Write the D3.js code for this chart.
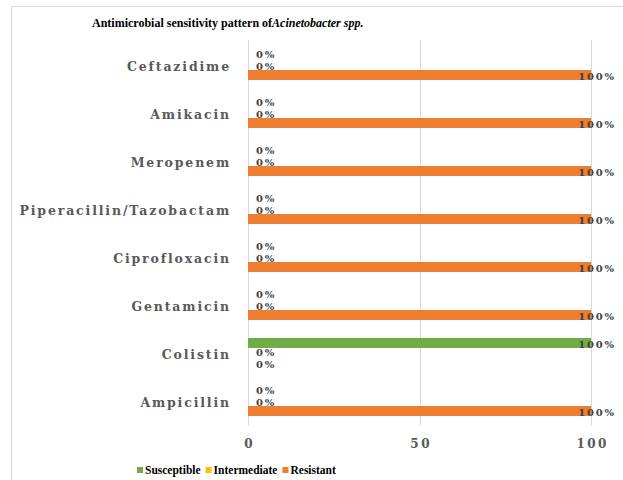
<!DOCTYPE html>
<html><head><meta charset="utf-8">
<script src="https://cdn.jsdelivr.net/npm/d3@7"></script>
<style>
body{margin:0;background:#fff;}
svg{display:block;}
</style></head>
<body>
<script>
const categories = ["Ceftazidime","Amikacin","Meropenem","Piperacillin/Tazobactam","Ciprofloxacin","Gentamicin","Colistin","Ampicillin"];
const seriesNames = ["Susceptible","Intermediate","Resistant"];
const susceptible = [0,0,0,0,0,0,100,0];
const intermediate = [0,0,0,0,0,0,0,0];
const resistant = [100,100,100,100,100,100,0,100];
const xTicks = [0,50,100];
const colors = ["#70AD47","#FFC000","#ED7D31"];

const FONT = "'Liberation Serif', 'Times New Roman', serif";
const WIDE = "'DejaVu Serif', serif";
const seriesValues = [susceptible, intermediate, resistant];
const W = 623, H = 480;
const svg = d3.select("body").append("svg").attr("width", W).attr("height", H);

// frame
svg.append("path").attr("d", "M11.5," + H + " V6.5 H" + W)
  .attr("fill","none").attr("stroke","#d9d9d9").attr("stroke-width",1);

// title
const title = svg.append("text").attr("x", 92).attr("y", 27)
  .style("font-family", FONT).attr("font-weight","bold")
  .attr("font-size", 12).attr("fill","#000");
title.append("tspan").text("Antimicrobial sensitivity pattern of");
title.append("tspan").attr("font-style","italic").text("Acinetobacter spp.");

const x = d3.scaleLinear().domain([0,100]).range([248,591]);
const y = d3.scaleBand().domain(categories).range([41,425]).padding(0);
const ys = d3.scaleBand().domain(seriesNames).range([9,39]).padding(0);

// gridlines
svg.append("g").selectAll("line").data(xTicks).join("line")
  .attr("x1", d => Math.round(x(d))+0.5).attr("x2", d => Math.round(x(d))+0.5)
  .attr("y1", 40).attr("y2", 425)
  .attr("stroke","#d9d9d9").attr("stroke-width",1);

// x axis labels
const xAxis = d3.axisBottom(x).tickValues(xTicks).tickSize(0).tickPadding(0).tickFormat(d3.format("d"));
const gx = svg.append("g").attr("transform","translate(0,439)").call(xAxis);
gx.select(".domain").remove();
gx.selectAll("text").style("font-family", WIDE).attr("font-weight","bold")
  .attr("font-size",12).attr("fill","#595959").attr("letter-spacing","2.5px").attr("dx","1.2px").attr("dy","0.71em");

// y axis labels
const yAxis = d3.axisLeft(y).tickSize(0).tickPadding(17);
const gy = svg.append("g").attr("transform","translate(248,1.5)").call(yAxis);
gy.select(".domain").remove();
gy.selectAll("text").style("font-family", WIDE).attr("font-weight","bold")
  .attr("font-size",12.5).attr("fill","#595959").attr("letter-spacing","1.85px");

// bars
const rows = [];
seriesNames.forEach((s,i) => categories.forEach((c,j) => rows.push({s, i, c, v: seriesValues[i][j]})));

svg.append("g").selectAll("rect").data(rows.filter(d => d.v > 0)).join("rect")
  .attr("x", x(0)).attr("y", d => y(d.c) + ys(d.s))
  .attr("width", d => x(d.v) - x(0)).attr("height", ys.bandwidth())
  .attr("fill", d => colors[d.i]);

// value labels (zero labels within a category slightly spread apart)
const zeroRank = {};
rows.slice().sort((a,b) => a.i - b.i).forEach(d => {
  if (d.v === 0) { zeroRank[d.c] = (zeroRank[d.c] || 0); d.rank = zeroRank[d.c]++; }
});
svg.append("g").selectAll("text").data(rows).join("text")
  .attr("x", d => d.v > 0 ? x(d.v) + 6 : x(0) + 8)
  .attr("y", d => y(d.c) + ys(d.s) + ys.bandwidth()/2 + (d.v > 0 ? 1 : (d.rank === 0 ? -0.5 : 1.5)))
  .attr("text-anchor", d => d.v > 0 ? "middle" : "start")
  .attr("dominant-baseline","central")
  .style("font-family", WIDE).attr("font-weight","bold")
  .attr("font-size",10).attr("fill","#404040").attr("letter-spacing","1.8px")
  .text(d => d.v + "%");

// legend
const legend = svg.append("g").attr("transform","translate(137,470)");
let lx = 0;
seriesNames.forEach((s,i) => {
  const g = legend.append("g").attr("transform","translate(" + lx + ",0)");
  g.append("rect").attr("x",0).attr("y",-3).attr("width",6).attr("height",6).attr("fill",colors[i]);
  const t = g.append("text").attr("x",8).attr("y",0).attr("dominant-baseline","central")
    .style("font-family", FONT).attr("font-weight","bold")
    .attr("font-size",11.5).attr("fill","#000").text(s);
  lx += 8 + t.node().getComputedTextLength() + 5;
});
</script>
</body></html>
